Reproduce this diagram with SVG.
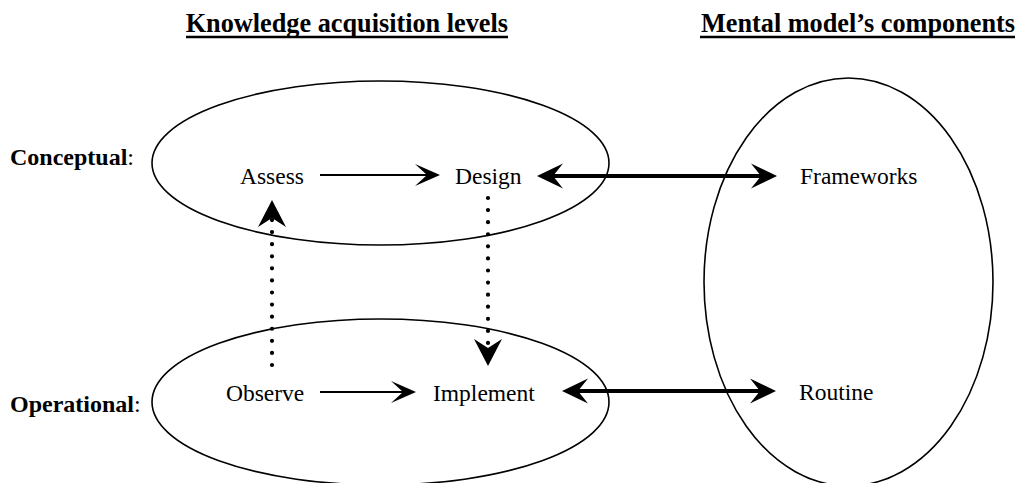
<svg xmlns="http://www.w3.org/2000/svg" width="1021" height="483" viewBox="0 0 1021 483">
  <style>
    text { font-family: "Liberation Serif", "Times New Roman", serif; fill: #000; }
    .lbl { font-size: 23.5px; }
    .side { font-size: 24px; }
    .hdr { font-size: 26.25px; font-weight: bold; }
    .b { font-weight: bold; }
    .ell { fill: none; stroke: #000; stroke-width: 1.6; }
    .thin { fill: none; stroke: #000; stroke-width: 2; marker-end: url(#headThin); }
    .thick { fill: none; stroke: #000; stroke-width: 4; marker-start: url(#headThick); marker-end: url(#headThick); }
    .dots { fill: none; stroke: #000; stroke-width: 4.2; stroke-linecap: round; stroke-dasharray: 0 12.08; marker-end: url(#headDot); }
    .ul { stroke: #000; stroke-width: 2.5; }
  </style>
  <defs>
    <!-- arrowheads: the reference point sits in the notch, where the shaft ends -->
    <marker id="headThin" markerUnits="userSpaceOnUse" viewBox="-13 -12 27 24" markerWidth="27" markerHeight="24" refX="0" refY="0" orient="auto" overflow="visible">
      <path d="M13,0 L-12,-11 L0,0 L-12,11 Z" fill="#000"/>
    </marker>
    <marker id="headThick" markerUnits="userSpaceOnUse" viewBox="-11 -13 28 26" markerWidth="28" markerHeight="26" refX="0" refY="0" orient="auto-start-reverse" overflow="visible">
      <path d="M16,0 L-10,-12.5 L0,0 L-10,12.5 Z" fill="#000"/>
    </marker>
    <marker id="headDot" markerUnits="userSpaceOnUse" viewBox="-10 -15 29 30" markerWidth="29" markerHeight="30" refX="0" refY="0" orient="auto" overflow="visible">
      <path d="M18,0 L-9,-14 L0,0 L-9,14 Z" fill="#000"/>
    </marker>
  </defs>

  <!-- column headings -->
  <g id="heading-levels">
    <text class="hdr" x="508" y="32" text-anchor="end">Knowledge acquisition levels</text>
    <line class="ul" x1="186" y1="37" x2="508" y2="37"/>
  </g>
  <g id="heading-components">
    <text class="hdr" x="1015" y="32" text-anchor="end">Mental model’s components</text>
    <line class="ul" x1="700" y1="37" x2="1015" y2="37"/>
  </g>

  <!-- row labels -->
  <g id="row-conceptual">
    <text class="side" x="10" y="165"><tspan class="b">Conceptual</tspan>:</text>
  </g>
  <g id="row-operational">
    <text class="side" x="10" y="412"><tspan class="b">Operational</tspan>:</text>
  </g>

  <!-- groupings -->
  <g id="conceptual-level">
    <ellipse class="ell" cx="380.5" cy="163" rx="228.5" ry="82"/>
  </g>
  <g id="operational-level">
    <ellipse class="ell" cx="380.5" cy="402" rx="228.5" ry="83"/>
  </g>
  <g id="mental-model">
    <ellipse class="ell" cx="848.5" cy="282" rx="144.5" ry="204"/>
  </g>

  <!-- nodes -->
  <g id="assess"><text class="lbl" x="240" y="184">Assess</text></g>
  <g id="design"><text class="lbl" x="455" y="184">Design</text></g>
  <g id="frameworks"><text class="lbl" x="800" y="184">Frameworks</text></g>
  <g id="observe"><text class="lbl" x="226" y="401">Observe</text></g>
  <g id="implement"><text class="lbl" x="433" y="401">Implement</text></g>
  <g id="routine"><text class="lbl" x="799" y="400">Routine</text></g>

  <!-- connectors -->
  <g id="connectors">
    <path class="thin" d="M320,175 L427,175"/>
    <path class="thin" d="M320,392 L403,392"/>
    <path class="thick" d="M553,176 L761,176"/>
    <path class="thick" d="M578,391 L760,391"/>
    <path class="dots" d="M272,365 L272,218"/>
    <path class="dots" d="M488,198 L488,348"/>
  </g>
</svg>
